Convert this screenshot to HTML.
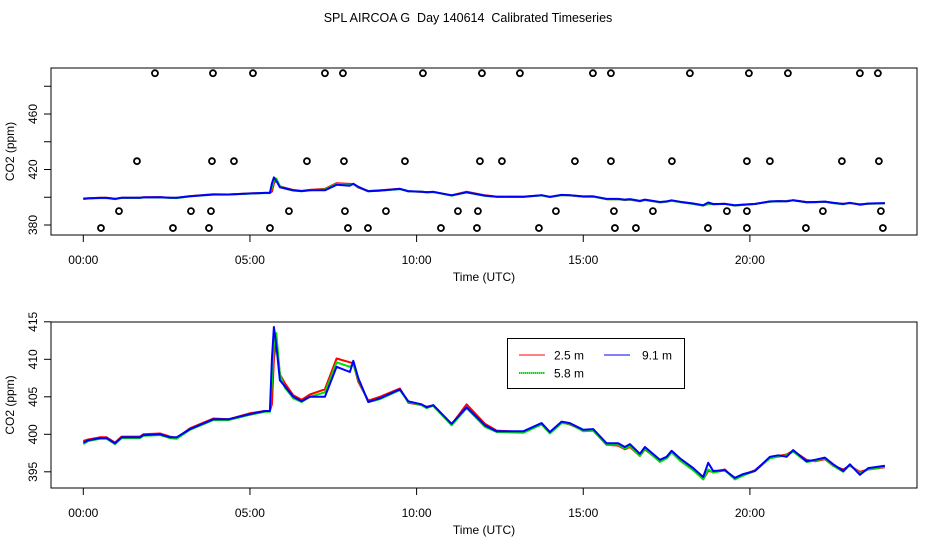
<!DOCTYPE html>
<html><head><meta charset="utf-8"><title>SPL AIRCOA G Day 140614</title>
<style>
html,body{margin:0;padding:0;background:#fff;}
svg{display:block;font-family:"Liberation Sans",sans-serif;}
</style></head>
<body>
<svg id="chart" width="936" height="540" viewBox="0 0 936 540">
<text x="468" y="22" text-anchor="middle" font-size="12.5" style="white-space:pre">SPL AIRCOA G  Day 140614  Calibrated Timeseries</text>
<g id="top"></g>
<g id="bot"></g>
</svg>
<script>
const hours = [0,0.15,0.5,0.7,0.95,1.15,1.7,1.8,2.3,2.6,2.8,3.2,3.9,4.35,5,5.45,5.6,5.66,5.72,5.79,5.9,6.05,6.3,6.55,6.8,7.25,7.6,8.0,8.1,8.25,8.55,8.9,9.5,9.75,10.15,10.3,10.5,11.05,11.5,12.05,12.4,13.2,13.75,14.0,14.35,14.6,15.0,15.3,15.7,16.05,16.25,16.4,16.7,16.85,17.3,17.5,17.65,17.9,18.3,18.6,18.75,18.9,19.25,19.55,19.8,20.15,20.6,20.85,21.1,21.3,21.7,21.95,22.25,22.5,22.8,23.0,23.3,23.55,24.05];
const co2_91m = [398.9,399.2,399.5,399.5,398.8,399.6,399.6,399.9,400.0,399.6,399.6,400.7,402.0,402.0,402.7,403.1,403.1,410.0,414.3,411.9,407.2,406.4,405.0,404.4,405.0,405.0,409.0,408.3,409.8,407.5,404.3,404.8,406.0,404.4,404.0,403.6,403.9,401.4,403.6,401.2,400.4,400.4,401.5,400.3,401.7,401.5,400.6,400.7,398.8,398.8,398.3,398.7,397.4,398.3,396.6,397.0,397.8,396.8,395.5,394.3,396.2,395.1,395.2,394.2,394.7,395.1,397.0,397.2,397.0,397.9,396.4,396.6,396.9,396.0,395.1,396.0,394.6,395.5,395.8];
const co2_25m = [399.1,399.3,399.6,399.6,398.9,399.7,399.7,400.0,400.1,399.7,399.5,400.8,402.1,402.0,402.8,403.1,403.1,404.0,410.0,412.5,408.0,406.8,405.2,404.6,405.3,406.0,410.1,409.6,409.5,407.0,404.5,405.0,406.1,404.2,403.9,403.7,403.8,401.3,404.0,401.4,400.5,400.3,401.4,400.2,401.6,401.3,400.5,400.5,398.6,398.5,398.0,398.3,397.1,398.0,396.4,396.8,397.6,396.6,395.3,394.0,395.1,395.0,395.3,394.0,394.6,395.2,396.9,397.1,397.3,397.8,396.6,396.4,396.7,395.8,395.3,395.8,395.0,395.3,395.6];
const co2_58m = [398.7,399.1,399.4,399.4,398.7,399.5,399.5,399.8,399.9,399.5,399.4,400.6,401.9,401.9,402.6,403.0,403.0,407.0,412.0,413.5,408.0,406.2,404.8,404.3,405.0,405.6,409.6,409.0,409.3,407.3,404.3,404.7,405.9,404.3,403.9,403.5,403.8,401.2,403.5,401.0,400.3,400.2,401.3,400.1,401.5,401.4,400.4,400.5,398.6,398.6,398.1,398.4,397.1,398.1,396.3,396.8,397.6,396.5,395.2,394.0,395.3,394.9,395.2,394.0,394.5,395.1,396.8,397.0,397.2,397.7,396.3,396.5,396.8,395.8,395.0,395.9,394.8,395.3,395.7];
const flagHigh = [2.15,3.89,5.09,7.25,7.79,10.19,11.96,13.1,15.29,15.83,18.2,19.97,21.14,23.3,23.84];
const flag426 = [1.61,3.86,4.52,6.71,7.82,9.65,11.9,12.56,14.75,15.83,17.66,19.91,20.6,22.76,23.87];
const flag390 = [1.07,3.23,3.83,6.17,7.85,9.08,11.24,11.84,14.18,15.92,17.09,19.31,19.91,22.19,23.93];
const flag378 = [0.53,2.69,3.77,5.6,7.94,8.54,10.73,11.81,13.67,15.95,16.58,18.74,19.91,21.68,23.99];
const flagLevels = [489.4,426,390,377.8];
const xTickHours = [0,5,10,15,20];
const xTickLabels = ["00:00","05:00","10:00","15:00","20:00"];
const topYTicks = [380,400,420,440,460,480];
const topYLabels = ["380","","420","","460",""];
const botYTicks = [395,400,405,410,415];
const botYLabels = ["395","400","405","410","415"];

const NS="http://www.w3.org/2000/svg";
function mk(tag,attrs,parent){const e=document.createElementNS(NS,tag);for(const k in attrs)e.setAttribute(k,attrs[k]);parent.appendChild(e);return e;}
const xs = h => 83.3 + h*33.33;
const yTop = v => 225 - (v-380)*(111/80);
const yBot = v => 434.3 - (v-400)*7.5;

function panel(g, box, ys, yTicks, yLabels, tickLabelY, titleY){
  const r=mk('rect',{x:box[0],y:box[1],width:box[2]-box[0],height:box[3]-box[1],fill:'none',stroke:'#000','stroke-width':1},g);
  
  
  xTickHours.forEach((h,i)=>{
    const t=mk('line',{x1:xs(h),x2:xs(h),y1:box[3],y2:box[3]+7,stroke:'#000'},g);
    
    
    const l=mk('text',{x:xs(h),y:tickLabelY,'text-anchor':'middle','font-size':12},g);
    l.textContent=xTickLabels[i];
    
    
  });
  const xt=mk('text',{x:484,y:titleY,'text-anchor':'middle','font-size':12},g);
  xt.textContent='Time (UTC)';
  
  
  yTicks.forEach((v,i)=>{
    const y=ys(v);
    const t=mk('line',{x1:box[0]-7,x2:box[0],y1:y,y2:y,stroke:'#000'},g);
    
    
    if(yLabels[i]){
      const l=mk('text',{x:0,y:0,'text-anchor':'middle','font-size':12,transform:`translate(37,${y}) rotate(-90)`},g);
      l.textContent=yLabels[i];
      
      
    }
  });
  const yt=mk('text',{x:0,y:0,'text-anchor':'middle','font-size':12,transform:`translate(14,${(box[1]+box[3])/2}) rotate(-90)`},g);
  yt.textContent='CO2 (ppm)';
  
  
}
function series(g, vals, ys, color, name){
  const d=hours.map((h,i)=>(i?'L':'M')+xs(h).toFixed(1)+','+ys(vals[i]).toFixed(1)).join('');
  const p=mk('path',{d:d,fill:'none',stroke:color,'stroke-width':2,'stroke-linejoin':'round'},g);
  
  
}
const gTop=document.getElementById('top'), gBot=document.getElementById('bot');
panel(gTop,[51,68,917,235],yTop,topYTicks,topYLabels,264,281);
panel(gBot,[51,322,917,488],yBot,botYTicks,botYLabels,517,534);
[gTop,gBot].forEach((g,k)=>{
  const ys=k?yBot:yTop;
  series(g,co2_25m,ys,'#ff0000','series-2-5m');
  series(g,co2_58m,ys,'#00dd00','series-5-8m');
  series(g,co2_91m,ys,'#0000ff','series-9-1m');
});
[flagHigh,flag426,flag390,flag378].forEach((arr,j)=>{
  arr.forEach(h=>{
    const c=mk('circle',{cx:xs(h),cy:yTop(flagLevels[j]),r:3,fill:'none',stroke:'#000','stroke-width':1.8},gTop);
    
    
  });
});
const lg=mk('g',{},gBot);


mk('rect',{x:507.5,y:338.5,width:177,height:50,fill:'#fff',stroke:'#000'},lg);
const items=[['2.5 m','#ff0000',519,355,554],['9.1 m','#0000ff',604,355,642],['5.8 m','#00dd00',519,373,554]];
items.forEach(it=>{
  const ln=mk('line',{x1:it[2],x2:it[2]+26,y1:it[3],y2:it[3],stroke:it[1],'stroke-width':1},lg);
  
  
  if(it[0]==='5.8 m'){ mk('line',{x1:it[2],x2:it[2]+26,y1:it[3],y2:it[3],stroke:'#000','stroke-width':1,'stroke-dasharray':'1,1'},lg); }
  const t=mk('text',{x:it[4],y:it[3]+4.5,'font-size':12},lg);
  t.textContent=it[0];
  
  
});
</script>
</body></html>
